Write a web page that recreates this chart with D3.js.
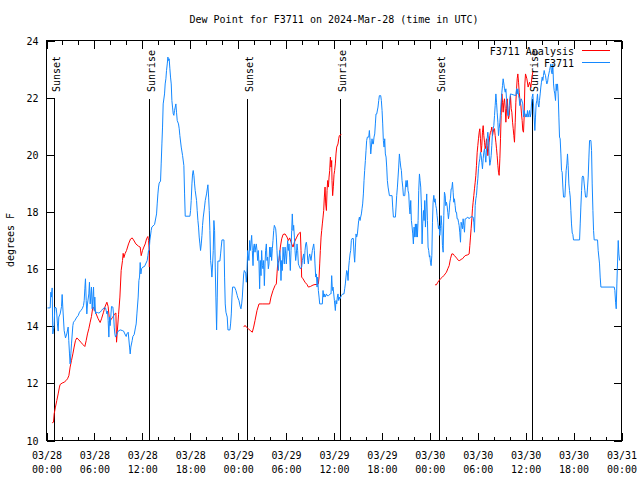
<!DOCTYPE html>
<html><head><meta charset="utf-8">
<script src="https://cdn.jsdelivr.net/npm/d3@7"></script>
<style>
html,body{margin:0;padding:0;background:#fff;}
svg{display:block;}
text{font-family:"DejaVu Sans Mono","Liberation Mono",monospace;font-size:10px;fill:#000;}
</style></head>
<body>
<svg id="chart" width="640" height="480"></svg>
<script>
// ---------------- DATA ----------------
const chartTitle = "Dew Point for F3711 on 2024-Mar-28 (time in UTC)";
const yLabel = "degrees F";
const startUTC = Date.UTC(2024, 2, 28, 0, 0);
const endUTC = Date.UTC(2024, 2, 31, 0, 0);
const yTicks = [10, 12, 14, 16, 18, 20, 22, 24];
const seriesNames = ["F3711 Analysis", "F3711"];
// sunrise / sunset, hours after 03/28 00:00 UTC
const sunHours = [1.04, 12.86, 25.14, 36.8, 49.2, 60.87];
const sunLabels = ["Sunset", "Sunrise", "Sunset", "Sunrise", "Sunset", "Sunrise"];

// F3711 observations: [hours after 03/28 00:00 UTC, dew point °F]
const obsPoints = [
[0.12,14.64],[0.46,14.64],[0.54,15.19],[0.62,15.02],[0.71,15.34],[0.79,13.73],[0.96,14.02],[1.04,14.67],[1.21,14.64],[1.29,14.43],
[1.37,14.08],[1.46,13.83],[1.54,14.32],[1.71,14.43],[1.88,14.69],[1.96,15.11],[2.04,14.67],[2.21,13.85],[2.38,13.59],[2.54,13.73],
[2.71,13.97],[2.79,13.5],[2.88,13.03],[2.96,12.68],[3.05,13.03],[3.13,13.38],[3.30,14.02],[3.38,14.14],[3.55,14.2],[3.80,14.32],
[3.96,14.37],[4.13,14.49],[4.30,14.55],[4.47,14.61],[4.63,14.72],[4.72,14.9],[4.80,15.31],[4.88,15.66],[4.97,14.9],[5.05,14.43],
[5.13,14.78],[5.30,15.13],[5.38,15.54],[5.47,14.78],[5.63,15.37],[5.72,14.61],[5.89,15.37],[5.97,14.55],[6.05,15.02],[6.14,14.43],
[6.22,14.49],[6.39,14.48],[6.55,14.46],[6.72,14.49],[6.89,14.55],[7.06,14.61],[7.22,14.64],[7.39,14.64],[7.47,14.55],[7.56,14.43],
[7.64,14.53],[7.72,14.2],[7.81,13.62],[7.89,14.32],[7.97,14.02],[8.14,14.69],[8.31,14.67],[8.39,14.43],[8.48,13.97],[8.56,13.73],
[8.64,13.62],[8.81,13.73],[8.98,13.83],[9.23,13.87],[9.48,13.85],[9.65,13.83],[9.81,13.73],[9.98,13.64],[10.06,13.73],[10.23,13.79],
[10.40,13.27],[10.48,13.03],[10.56,13.27],[10.73,13.5],[10.81,13.64],[10.98,13.71],[11.15,13.97],[11.23,14.08],[11.32,14.43],[11.48,15.02],
[11.57,15.6],[11.65,15.72],[11.73,16.23],[11.82,15.83],[11.90,16.01],[12.07,16.07],[12.27,16.09],[12.61,16.3],[12.69,16.47],[12.78,16.65],
[12.86,16.65],[12.94,17.0],[13.11,17.35],[13.19,17.47],[13.53,17.56],[13.78,17.93],[13.86,18.28],[13.95,18.63],[14.03,18.87],[14.11,19.01],
[14.28,19.08],[14.36,19.68],[14.45,20.38],[14.53,20.97],[14.61,21.78],[14.78,22.13],[14.86,22.48],[14.95,22.66],[15.03,22.95],[15.12,23.18],
[15.20,23.42],[15.28,23.3],[15.36,23.36],[15.45,23.01],[15.53,22.72],[15.62,22.48],[15.70,21.9],[15.78,21.67],[15.87,21.43],[15.95,21.38],
[16.03,21.55],[16.20,21.78],[16.28,21.49],[16.37,21.2],[16.53,21.08],[16.62,20.91],[16.70,20.67],[16.87,20.27],[17.04,19.97],[17.20,19.62],
[17.29,18.63],[17.37,17.85],[17.96,17.85],[18.04,18.05],[18.12,18.4],[18.21,18.98],[18.29,19.33],[18.37,19.45],[18.46,19.27],[18.54,18.98],
[18.62,18.75],[18.79,18.4],[18.87,18.05],[18.96,17.7],[19.04,17.47],[19.12,17.12],[19.21,16.88],[19.29,16.65],[19.38,16.88],[19.46,17.17],
[19.54,17.53],[19.63,17.82],[19.79,18.17],[19.88,18.4],[20.04,18.63],[20.21,18.95],[20.30,18.52],[20.38,18.05],[20.46,17.35],[20.55,16.3],
[20.63,16.07],[20.71,15.72],[20.80,16.18],[20.88,16.65],[20.96,17.7],[21.05,17.35],[21.13,16.07],[21.21,15.02],[21.30,13.87],[21.38,15.02],
[21.46,16.28],[21.71,16.28],[21.80,16.53],[21.88,16.77],[21.97,17.02],[22.22,17.02],[22.30,15.72],[22.38,14.78],[22.47,14.49],[22.63,14.32],
[22.72,13.87],[22.97,13.87],[23.05,14.08],[23.14,14.43],[23.22,15.02],[23.30,15.37],[23.55,15.37],[23.72,15.25],[23.89,15.07],[23.93,15.02],
[24.10,14.9],[24.27,14.67],[24.35,14.61],[24.44,14.78],[24.52,15.02],[24.69,15.83],[24.77,15.95],[24.94,15.86],[25.02,15.54],[25.10,15.89],
[25.19,16.65],[25.35,16.3],[25.44,17.0],[25.52,16.65],[25.69,17.18],[25.77,16.65],[25.86,16.12],[25.94,16.77],[26.02,16.88],[26.11,16.59],
[26.19,16.77],[26.27,16.88],[26.36,16.65],[26.44,16.3],[26.52,16.65],[26.61,16.18],[26.69,15.31],[26.77,16.3],[26.86,15.77],[26.94,16.65],
[27.03,16.12],[27.11,16.01],[27.19,16.3],[27.28,15.42],[27.36,16.18],[27.44,16.65],[27.53,16.88],[27.61,16.3],[27.69,16.42],[27.78,16.01],
[27.86,16.18],[27.94,16.77],[28.03,16.42],[28.11,16.77],[28.19,16.3],[28.28,16.71],[28.36,17.0],[28.45,17.35],[28.53,17.53],[28.70,17.41],
[28.78,17.12],[28.86,16.65],[28.95,16.18],[29.03,15.95],[29.11,16.36],[29.20,16.65],[29.28,16.42],[29.36,15.6],[29.45,16.3],[29.53,15.95],
[29.62,16.77],[29.70,16.42],[29.78,16.18],[29.87,16.77],[29.95,16.53],[30.03,16.18],[30.12,16.65],[30.20,17.0],[30.28,16.65],[30.37,16.88],
[30.45,16.42],[30.53,15.95],[30.62,16.65],[30.70,17.35],[30.78,17.93],[30.87,17.35],[30.95,17.53],[31.04,17.12],[31.12,16.65],[31.20,16.3],
[31.29,16.53],[31.37,16.88],[31.45,16.65],[31.54,16.18],[31.62,16.12],[31.79,16.01],[31.95,16.07],[32.04,16.3],[32.20,16.53],[32.29,16.18],
[32.37,16.65],[32.46,16.88],[32.54,16.94],[32.62,16.77],[32.71,16.3],[32.79,16.18],[32.87,16.42],[32.96,16.53],[33.12,16.3],[33.29,16.65],
[33.46,16.88],[33.54,16.65],[33.62,16.18],[33.71,15.72],[33.79,15.83],[33.88,15.37],[33.96,15.72],[34.04,15.25],[34.13,15.02],[34.21,14.78],
[34.37,14.78],[34.54,14.78],[34.63,15.25],[34.71,15.02],[34.79,15.13],[34.88,15.02],[35.05,15.13],[35.13,15.07],[35.30,15.07],[35.55,15.13],
[35.63,15.13],[35.71,15.77],[35.80,15.25],[35.88,15.37],[36.05,14.9],[36.17,14.55],[36.25,14.9],[36.34,14.78],[36.42,15.02],[36.50,15.13],
[36.59,14.9],[36.67,15.02],[36.75,14.96],[36.92,15.07],[37.09,15.13],[37.25,15.13],[37.34,15.31],[37.42,15.48],[37.50,15.72],[37.59,15.95],
[37.67,15.89],[37.76,15.6],[37.84,16.07],[37.92,16.3],[38.01,16.53],[38.09,16.65],[38.17,17.0],[38.26,17.07],[38.42,17.07],[38.51,16.53],
[38.59,16.24],[38.68,16.77],[38.76,17.23],[38.84,17.12],[38.93,17.23],[39.01,17.47],[39.09,17.7],[39.18,17.82],[39.26,17.7],[39.34,17.82],
[39.43,17.93],[39.51,18.11],[39.59,18.28],[39.68,18.63],[39.76,19.1],[39.84,19.45],[39.93,19.8],[40.01,20.15],[40.09,20.5],[40.18,20.62],
[40.35,20.62],[40.43,20.85],[40.51,20.5],[40.60,20.03],[40.68,20.27],[40.76,20.56],[40.85,20.38],[40.93,20.38],[41.01,20.62],[41.10,20.73],
[41.18,21.08],[41.26,21.43],[41.35,21.43],[41.51,21.67],[41.60,21.9],[41.68,22.07],[41.85,22.07],[41.93,21.9],[42.02,21.55],[42.10,21.08],
[42.18,20.5],[42.27,20.27],[42.35,20.56],[42.43,20.03],[42.52,19.92],[42.60,19.57],[42.68,19.1],[42.77,18.87],[42.94,18.57],[43.27,18.57],
[43.35,18.17],[43.44,17.82],[43.69,17.82],[43.77,18.17],[43.85,18.57],[43.94,18.87],[44.02,19.22],[44.10,19.57],[44.19,20.03],[44.27,19.8],
[44.36,19.57],[44.44,19.45],[44.52,19.1],[44.61,18.87],[44.69,18.57],[44.86,18.57],[44.94,18.87],[45.02,19.1],[45.11,18.87],[45.19,19.1],
[45.27,18.75],[45.36,18.63],[45.44,18.17],[45.52,17.93],[45.61,18.4],[45.69,17.7],[45.78,17.47],[45.86,17.23],[45.94,16.88],[46.03,17.47],
[46.11,17.12],[46.19,17.58],[46.28,17.12],[46.36,17.58],[46.44,17.12],[46.53,17.7],[46.61,18.75],[46.70,19.33],[46.78,19.1],[46.86,18.87],
[46.95,18.17],[47.03,16.88],[47.11,17.58],[47.20,18.05],[47.28,17.7],[47.36,18.4],[47.45,17.47],[47.53,18.17],[47.61,18.63],[47.70,17.7],
[47.78,16.77],[47.86,16.65],[47.95,16.42],[48.00,16.47],[48.08,16.24],[48.16,16.12],[48.25,16.47],[48.33,17.64],[48.41,18.34],[48.50,18.58],
[48.58,18.34],[48.66,18.46],[48.75,18.22],[48.83,18.11],[48.91,17.87],[49.00,17.64],[49.08,17.41],[49.16,17.52],[49.25,17.18],[49.33,17.41],
[49.41,17.87],[49.50,17.52],[49.58,16.83],[49.67,16.59],[49.75,17.87],[49.83,18.69],[49.92,18.58],[50.00,18.22],[50.08,18.34],[50.16,18.22],
[50.25,17.99],[50.33,17.76],[50.42,17.99],[50.50,18.34],[50.58,18.46],[50.67,18.81],[50.75,18.81],[50.84,19.04],[50.92,18.69],[51.00,18.34],
[51.08,18.46],[51.17,18.22],[51.25,17.99],[51.34,17.99],[51.42,17.76],[51.51,17.76],[51.59,17.64],[51.67,17.52],[51.75,17.29],[51.84,16.94],
[51.92,17.64],[52.00,17.52],[52.09,17.41],[52.17,17.76],[52.25,17.52],[52.34,17.29],[52.42,17.76],[52.50,17.76],[52.76,17.82],[52.92,17.76],
[53.09,17.82],[53.26,17.84],[53.42,17.82],[53.51,17.64],[53.59,17.29],[53.68,18.22],[53.76,18.46],[53.84,18.58],[53.93,18.92],[54.01,19.16],
[54.09,19.51],[54.18,19.74],[54.26,19.86],[54.34,20.09],[54.43,19.97],[54.51,19.74],[54.59,19.51],[54.68,19.86],[54.76,20.09],[54.85,20.21],
[54.93,19.97],[55.01,19.74],[55.10,20.21],[55.18,20.56],[55.26,20.79],[55.35,20.56],[55.43,19.97],[55.51,19.63],[55.59,19.74],[55.68,19.97],
[55.76,20.33],[55.85,20.79],[55.93,20.91],[56.01,21.02],[56.10,21.37],[56.18,21.72],[56.27,22.13],[56.35,21.84],[56.43,21.49],[56.52,21.14],
[56.60,20.67],[56.68,20.91],[56.77,21.14],[56.85,21.49],[56.93,21.84],[57.02,22.19],[57.10,22.42],[57.18,22.66],[57.27,22.48],[57.35,22.31],
[57.44,22.19],[57.52,22.31],[57.60,21.96],[57.69,21.61],[57.77,21.37],[57.85,21.37],[57.94,21.72],[58.02,21.96],[58.10,22.13],[58.77,22.07],
[58.86,22.31],[58.94,22.13],[59.02,22.31],[59.11,22.07],[59.19,21.96],[59.27,21.72],[59.35,21.84],[59.44,21.96],[59.52,21.9],[59.64,21.78],
[59.73,21.32],[59.81,21.55],[59.90,21.43],[59.98,21.32],[60.06,21.43],[60.15,21.32],[60.23,21.55],[60.31,21.32],[60.40,21.43],[60.48,21.55],
[60.56,21.32],[60.65,21.43],[60.73,21.78],[60.81,22.02],[60.90,22.13],[60.98,21.78],[61.06,21.32],[61.15,20.85],[61.23,21.32],[61.31,21.78],
[61.40,21.9],[61.48,22.13],[61.56,21.78],[61.65,21.67],[61.73,21.9],[61.82,22.13],[61.90,22.37],[61.98,22.54],[62.07,22.72],[62.15,22.6],
[62.23,22.78],[62.32,22.95],[62.40,22.83],[62.48,22.78],[62.57,22.6],[62.65,22.48],[62.74,22.54],[62.82,22.72],[62.90,22.83],[62.99,22.95],
[63.07,23.07],[63.15,23.18],[63.23,22.89],[63.32,22.83],[63.40,23.18],[63.49,22.48],[63.57,22.25],[63.65,22.13],[63.74,21.9],[63.82,22.48],
[63.90,22.25],[63.99,22.48],[64.07,22.13],[64.16,21.32],[64.24,20.62],[64.32,20.56],[64.41,20.03],[64.49,19.45],[64.57,19.39],[64.66,18.87],
[64.74,18.52],[64.91,18.52],[64.99,18.98],[65.07,19.45],[65.16,19.68],[65.24,20.03],[65.32,19.62],[65.41,18.98],[65.49,18.75],[65.58,18.52],
[65.66,18.05],[65.74,17.58],[65.83,17.26],[65.91,17.21],[65.99,17.02],[66.75,17.02],[66.83,17.58],[66.91,18.17],[67.00,18.75],[67.08,19.22],
[67.16,19.26],[67.25,19.22],[67.33,18.98],[67.41,18.75],[67.50,18.52],[67.66,18.52],[67.75,18.87],[67.83,19.22],[67.92,19.92],[68.00,20.5],
[68.17,20.5],[68.25,20.15],[68.33,18.98],[68.42,18.05],[68.50,17.35],[68.58,17.02],[69.00,17.02],[69.08,16.65],[69.25,16.18],[69.33,15.72],
[69.42,15.37],[71.09,15.37],[71.17,15.25],[71.26,14.84],[71.34,14.61],[71.42,15.48],[71.59,17.0],[71.67,16.53],[71.76,16.3]
];

// F3711 Analysis: [hours, dew point °F]; null marks a break in the line
const anaPoints = [
[0.71,10.62],[0.87,10.64],[0.96,10.93],[1.12,11.17],[1.29,11.40],[1.46,11.63],[1.62,11.87],[1.71,11.96],[1.96,12.01],[2.21,12.04],
[2.46,12.10],[2.63,12.16],[2.80,12.27],[2.96,12.57],[3.13,12.80],[3.30,13.03],[3.46,13.27],[3.63,13.50],[3.80,13.59],[4.05,13.52],
[4.30,13.44],[4.55,13.36],[4.80,13.29],[4.97,13.50],[5.13,13.73],[5.30,13.91],[5.47,14.14],[5.63,14.34],[5.80,14.67],[5.97,14.61],
[6.22,14.43],[6.47,14.26],[6.72,14.13],[6.89,14.26],[7.14,14.49],[7.31,14.67],[7.56,14.84],[7.72,14.69],[7.81,14.43],[7.93,14.14],
[8.10,14.25],[8.27,14.30],[8.52,14.43],[8.69,14.46],[8.77,13.44],[8.86,13.8],[9.02,14.4],[9.19,15.02],[9.35,15.95],[9.52,16.3],
[9.60,16.55],[9.69,16.4],[9.85,16.55],[10.02,16.65],[10.27,16.88],[10.52,17.05],[10.73,17.09],[10.90,17.02],[11.19,16.88],[11.52,16.8],
[11.73,16.77],[11.86,16.47],[12.02,16.65],[12.19,16.77],[12.36,16.88],[12.53,17.06],[12.69,17.14],[12.78,17.0],[12.86,16.65],[12.87,16.07],
[18.0,null],
[24.69,13.97],[24.86,14.03],[25.02,13.97],[25.27,13.91],[25.52,13.85],[25.77,13.79],[25.94,13.97],[26.11,14.2],[26.36,14.55],[26.61,14.78],
[27.00,14.78],[27.36,14.78],[27.94,14.78],[28.11,15.02],[28.36,15.25],[28.61,15.42],[28.78,15.48],[28.86,15.83],[28.95,16.18],[29.11,16.3],
[29.20,16.53],[29.28,16.77],[29.45,17.06],[29.62,17.21],[29.87,17.23],[30.12,17.12],[30.28,17.0],[30.45,17.09],[30.70,16.88],[30.87,16.77],
[31.04,16.94],[31.29,17.09],[31.54,17.23],[31.79,17.29],[31.87,16.65],[31.95,15.72],[32.12,15.66],[32.37,15.54],[32.62,15.46],[32.79,15.37],
[33.04,15.39],[33.37,15.44],[33.62,15.46],[33.87,15.46],[34.04,15.48],[34.13,15.72],[34.21,16.18],[34.29,16.65],[34.38,17.12],[34.46,17.35],
[34.54,17.58],[34.63,17.82],[34.71,18.05],[34.79,18.52],[34.88,18.87],[34.96,18.28],[35.05,18.05],[35.13,18.75],[35.21,19.1],[35.30,18.87],
[35.38,19.22],[35.46,19.45],[35.55,19.92],[35.63,19.57],[35.71,19.8],[35.75,19.1],[35.83,18.57],[35.92,18.9],[36.00,19.3],[36.08,19.45],
[36.17,19.68],[36.25,20.03],[36.34,20.27],[36.50,20.38],[36.59,20.56],[36.67,20.67],[36.92,20.71],
[42.0,null],
[48.66,15.45],[48.83,15.45],[49.00,15.54],[49.16,15.6],[49.33,15.66],[49.58,15.72],[49.75,15.77],[49.92,15.83],[50.08,15.89],[50.25,16.01],
[50.42,16.12],[50.58,16.36],[50.75,16.53],[50.92,16.53],[51.08,16.47],[51.25,16.42],[51.42,16.36],[51.59,16.3],[51.75,16.3],[51.92,16.34],
[52.09,16.36],[52.26,16.42],[52.42,16.47],[52.76,16.5],[52.92,16.53],[53.01,16.83],[53.09,17.12],[53.17,17.41],[53.26,17.76],[53.34,18.11],
[53.42,18.34],[53.51,18.58],[53.59,18.81],[53.68,19.04],[53.76,19.28],[53.84,19.63],[53.93,20.09],[54.01,20.33],[54.09,20.56],[54.18,20.79],
[54.26,20.91],[54.34,20.56],[54.43,20.09],[54.51,20.33],[54.59,20.79],[54.68,21.02],[54.76,20.67],[54.85,20.44],[54.93,20.21],[55.01,20.33],
[55.10,20.56],[55.18,20.33],[55.26,19.97],[55.35,20.21],[55.43,20.44],[55.51,20.67],[55.59,20.79],[55.68,20.85],[55.76,20.97],[55.85,20.67],
[55.93,20.79],[56.01,20.91],[56.10,20.91],[56.18,20.67],[56.27,20.44],[56.35,20.21],[56.43,19.97],[56.52,19.63],[56.60,19.39],[56.68,19.28],
[56.77,19.86],[56.85,20.56],[56.93,21.37],[57.02,22.13],[57.10,21.84],[57.18,21.49],[57.27,21.84],[57.35,21.96],[57.44,21.61],[57.52,21.14],
[57.60,21.61],[57.69,21.96],[57.77,21.49],[57.85,21.26],[57.94,21.37],[58.02,21.72],[58.10,22.07],[58.19,21.61],[58.27,21.49],[58.36,21.14],
[58.44,20.91],[58.52,20.67],[58.60,20.44],[58.69,21.14],[58.77,21.84],[58.86,22.31],[58.94,22.66],[59.02,22.83],[59.11,22.54],[59.19,22.19],
[59.27,21.96],[59.40,21.72],[59.48,21.43],[59.56,21.2],[59.64,20.85],[59.73,20.79],[59.81,21.32],[59.90,22.48],[59.98,22.83],[60.15,22.66],
[60.31,22.37],[60.48,22.54],[60.65,22.37],[60.80,22.75],[60.90,22.9]
];

// ---------------- DRAWING ----------------
const colors = {ana: "#ff0000", obs: "#1488ff"};
const svg = d3.select("#chart");
const plot = {left: 46.5, right: 621.5, top: 40.5, bottom: 440.5};
const HOUR = 3600e3;
const toDate = h => new Date(startUTC + h * HOUR);

const x = d3.scaleUtc().domain([new Date(startUTC), new Date(endUTC)]).range([plot.left, plot.right]);
const y = d3.scaleLinear().domain([10, 24]).range([plot.bottom, plot.top]);

// title
svg.append("text").attr("x", 334).attr("y", 23).attr("text-anchor", "middle").text(chartTitle);
// y label
svg.append("text").attr("transform", "translate(14,240) rotate(-90)").attr("text-anchor", "middle").text(yLabel);

const tickHours = d3.utcHour.every(2).range(new Date(startUTC), new Date(endUTC + 1));
const isMajor = d => d.getUTCHours() % 6 === 0;
const fmtDay = d3.utcFormat("%m/%d"), fmtTime = d3.utcFormat("%H:%M");

// bottom axis (inward ticks)
const gB = svg.append("g").attr("transform", `translate(0,${plot.bottom})`)
  .call(d3.axisBottom(x).tickValues(tickHours).tickSize(-4).tickPadding(0).tickFormat(""));
gB.select(".domain").remove();
gB.selectAll(".tick line").attr("y2", d => isMajor(d) ? -8 : -4);
gB.selectAll(".tick").filter(isMajor).append("text")
  .attr("text-anchor", "middle").attr("fill", "#000")
  .each(function(d) {
    const t = d3.select(this);
    t.append("tspan").attr("x", 0).attr("y", 18).text(fmtDay(d));
    t.append("tspan").attr("x", 0).attr("y", 32).text(fmtTime(d));
  });
// top axis (mirror, inward)
const gT = svg.append("g").attr("transform", `translate(0,${plot.top})`)
  .call(d3.axisTop(x).tickValues(tickHours).tickSize(-4).tickFormat(""));
gT.select(".domain").remove();
gT.selectAll(".tick line").attr("y2", d => isMajor(d) ? 8 : 4);

// left axis
const gL = svg.append("g").attr("transform", `translate(${plot.left},0)`)
  .call(d3.axisLeft(y).tickValues(yTicks).tickSize(-8).tickPadding(8).tickFormat(d3.format("d")));
gL.select(".domain").remove();
gL.selectAll("text").attr("dy", "0.36em");
// right axis mirror
const gR = svg.append("g").attr("transform", `translate(${plot.right},0)`)
  .call(d3.axisRight(y).tickValues(yTicks).tickSize(-8).tickFormat(""));
gR.select(".domain").remove();
svg.selectAll(".tick line").attr("stroke", "#000").attr("shape-rendering", "crispEdges");
svg.selectAll("g").attr("font-family", null).attr("font-size", null);

// frame
svg.append("rect").attr("x", plot.left).attr("y", plot.top)
  .attr("width", plot.right - plot.left).attr("height", plot.bottom - plot.top)
  .attr("fill", "none").attr("stroke", "#000").attr("shape-rendering", "crispEdges");

// sunrise / sunset markers
const sunTop = 99;
sunHours.forEach((h, i) => {
  const sx = Math.round(x(toDate(h)) - 0.5) + 0.5;
  svg.append("line").attr("x1", sx).attr("x2", sx).attr("y1", plot.bottom).attr("y2", sunTop)
    .attr("stroke", "#000").attr("shape-rendering", "crispEdges");
  svg.append("text").attr("transform", `translate(${sx + 5},${sunTop - 7}) rotate(-90)`).text(sunLabels[i]);
});

// lines
const line = d3.line()
  .defined(d => d[1] !== null)
  .x(d => x(toDate(d[0])))
  .y(d => y(d[1]));
const clip = svg.append("clipPath").attr("id", "clip").append("rect")
  .attr("x", plot.left).attr("y", plot.top).attr("width", plot.right - plot.left).attr("height", plot.bottom - plot.top);
svg.append("path").datum(anaPoints).attr("d", line).attr("fill", "none")
  .attr("stroke", colors.ana).attr("stroke-width", 1).attr("clip-path", "url(#clip)");
svg.append("path").datum(obsPoints).attr("d", line).attr("fill", "none")
  .attr("stroke", colors.obs).attr("stroke-width", 1).attr("clip-path", "url(#clip)");

// legend
const legend = [{name: seriesNames[0], color: colors.ana}, {name: seriesNames[1], color: colors.obs}];
legend.forEach((d, i) => {
  const ly = 50.5 + i * 12;
  svg.append("text").attr("x", 574).attr("y", ly + 4).attr("text-anchor", "end").text(d.name);
  svg.append("line").attr("x1", 582).attr("x2", 610).attr("y1", ly).attr("y2", ly)
    .attr("stroke", d.color).attr("stroke-width", 1).attr("shape-rendering", "crispEdges");
});
</script>
</body></html>
